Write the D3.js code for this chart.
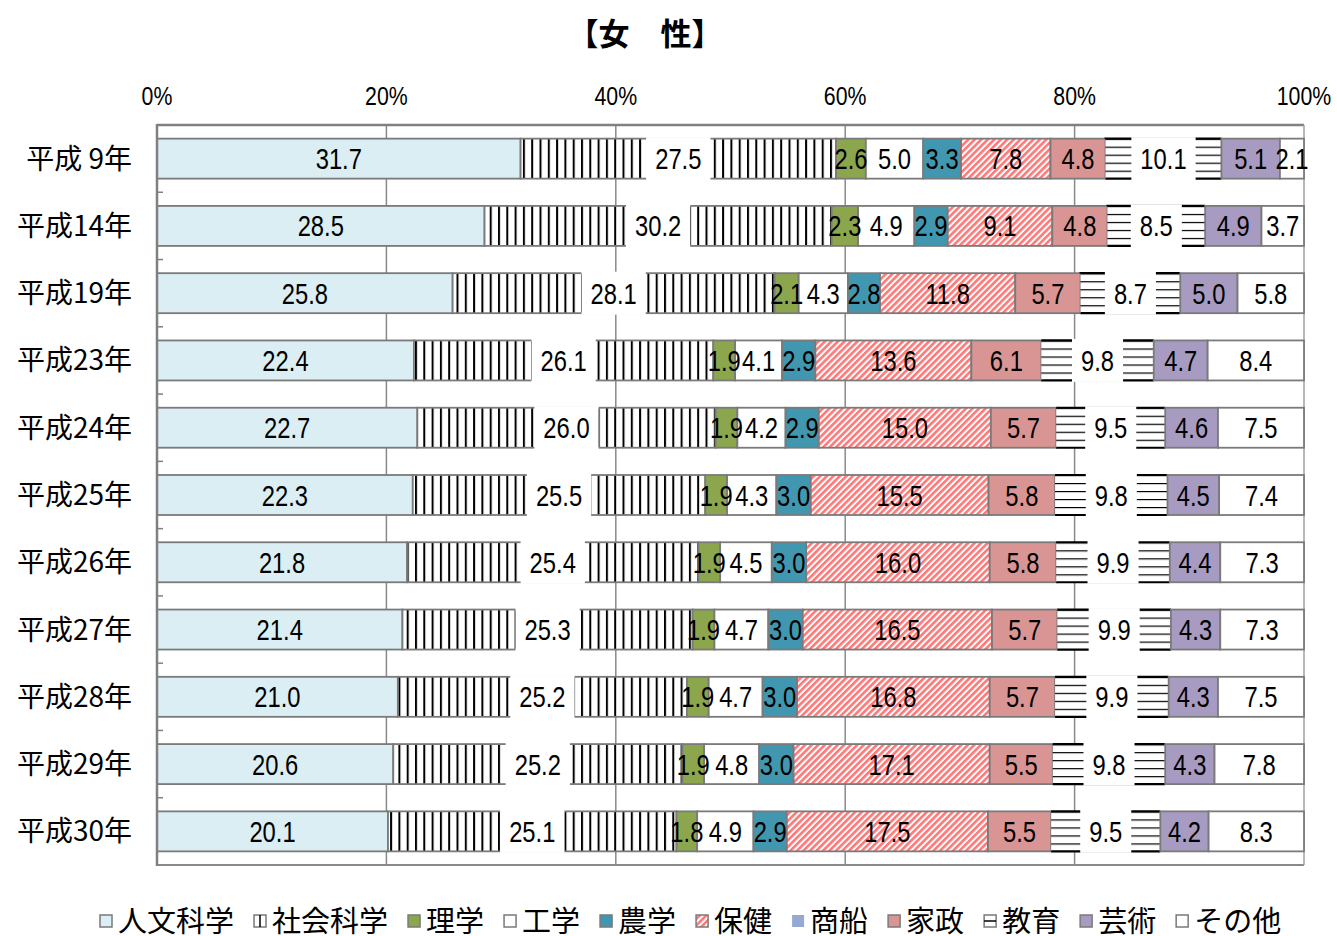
<!DOCTYPE html>
<html><head><meta charset="utf-8">
<script src="https://cdn.jsdelivr.net/npm/d3@7"></script>
<style>body{margin:0;background:#fff} svg{display:block}</style>
</head><body>
<svg id="c" width="1337" height="936"></svg>
<script>
// ---------- data ----------
const categories = ["平成 9年","平成14年","平成19年","平成23年","平成24年","平成25年","平成26年","平成27年","平成28年","平成29年","平成30年"];
const seriesNames = ["人文科学","社会科学","理学","工学","農学","保健","商船","家政","教育","芸術","その他"];
const jinbun   = [31.7,28.5,25.8,22.4,22.7,22.3,21.8,21.4,21.0,20.6,20.1];
const shakai   = [27.5,30.2,28.1,26.1,26.0,25.5,25.4,25.3,25.2,25.2,25.1];
const rigaku   = [2.6,2.3,2.1,1.9,1.9,1.9,1.9,1.9,1.9,1.9,1.8];
const kogaku   = [5.0,4.9,4.3,4.1,4.2,4.3,4.5,4.7,4.7,4.8,4.9];
const nogaku   = [3.3,2.9,2.8,2.9,2.9,3.0,3.0,3.0,3.0,3.0,2.9];
const hoken    = [7.8,9.1,11.8,13.6,15.0,15.5,16.0,16.5,16.8,17.1,17.5];
const shosen   = [0,0,0,0,0,0,0,0,0,0,0];
const kasei    = [4.8,4.8,5.7,6.1,5.7,5.8,5.8,5.7,5.7,5.5,5.5];
const kyoiku   = [10.1,8.5,8.7,9.8,9.5,9.8,9.9,9.9,9.9,9.8,9.5];
const geijutsu = [5.1,4.9,5.0,4.7,4.6,4.5,4.4,4.3,4.3,4.3,4.2];
const sonota   = [2.1,3.7,5.8,8.4,7.5,7.4,7.3,7.3,7.5,7.8,8.3];
const tickValues = [0,0.2,0.4,0.6,0.8,1.0];
const tickLabels = ["0%","20%","40%","60%","80%","100%"];
const titleText = "【女　性】";

const seriesValues = [jinbun,shakai,rigaku,kogaku,nogaku,hoken,shosen,kasei,kyoiku,geijutsu,sonota];
const table = categories.map((c,i)=>{
  const row = {cat:c};
  seriesNames.forEach((s,j)=>row[s]=seriesValues[j][i]);
  return row;
});

// ---------- styles ----------
const fills = {
  "人文科学":"#DAEEF3","社会科学":"url(#pShakai)","理学":"#8CA64E","工学":"#FFFFFF",
  "農学":"#4197AF","保健":"url(#pHoken)","商船":"#95A9D3","家政":"#D99594",
  "教育":"url(#pKyoiku)","芸術":"#A89BC1","その他":"#FFFFFF"
};
const boxed = new Set(["社会科学","教育"]);
const NUM_FONT = "'Liberation Sans',Arial,sans-serif";
const NARROW = 0.82;
const JP_FONT = "'Noto Sans CJK JP','Noto Sans',sans-serif";

const svg = d3.select("#c");
const L = 157, R = 1304, T = 125, B = 865;
const x = d3.scaleLinear().domain([0,1]).range([L,R]);
const y = d3.scaleBand().domain(categories).range([T,B]).paddingInner(0).paddingOuter(0);
const barH = 40;

// patterns
const defs = svg.append("defs");
const p1 = defs.append("pattern").attr("id","pShakai").attr("patternUnits","userSpaceOnUse")
  .attr("width",8.3).attr("height",10).attr("x",0);
p1.append("rect").attr("width",8.3).attr("height",10).attr("fill","#fff");
p1.append("rect").attr("x",0).attr("width",2).attr("height",10).attr("fill","#000");

const p2 = defs.append("pattern").attr("id","pHoken").attr("patternUnits","userSpaceOnUse")
  .attr("width",4.6).attr("height",10).attr("patternTransform","rotate(45)");
p2.append("rect").attr("width",4.6).attr("height",10).attr("fill","#fff");
p2.append("rect").attr("width",2.6).attr("height",10).attr("fill","#FF7878");

const p3 = defs.append("pattern").attr("id","pKyoiku").attr("patternUnits","objectBoundingBox")
  .attr("width",1).attr("height",1/5);
p3.append("rect").attr("width",3000).attr("height",20).attr("fill","#fff");
p3.append("rect").attr("y",-1).attr("width",3000).attr("height",2.2).attr("fill","#000");

// title
svg.append("text").attr("x",645).attr("y",45).attr("text-anchor","middle")
  .attr("font-family",JP_FONT).attr("font-weight","bold").attr("font-size",31)
  .text(titleText);

// tick labels
svg.append("g").selectAll("text").data(tickValues).join("text")
  .attr("transform",d=>`translate(${x(d)},105) scale(${NARROW},1)`)
  .attr("text-anchor","middle")
  .attr("font-family",NUM_FONT).attr("font-size",26).attr("fill","#000")
  .text((d,i)=>tickLabels[i]);

// gridlines
svg.append("g").selectAll("line").data(tickValues.slice(1,5)).join("line")
  .attr("x1",d=>x(d)).attr("x2",d=>x(d)).attr("y1",T).attr("y2",B)
  .attr("stroke","#8a8a8a").attr("stroke-width",1.5);

// frame
svg.append("line").attr("x1",L).attr("x2",R).attr("y1",T).attr("y2",T).attr("stroke","#808080").attr("stroke-width",2.5);
svg.append("line").attr("x1",L).attr("x2",R).attr("y1",B).attr("y2",B).attr("stroke","#8a8a8a").attr("stroke-width",2);
svg.append("line").attr("x1",R).attr("x2",R).attr("y1",T).attr("y2",B).attr("stroke","#a0a0a0").attr("stroke-width",1.5);

// stacked bars
const stack = d3.stack().keys(seriesNames).offset(d3.stackOffsetExpand);
const stacked = stack(table);

const gBars = svg.append("g");
stacked.forEach(s=>{
  const sel = gBars.append("g").selectAll("rect").data(s.filter(d=>d[1]-d[0]>0)).join("rect")
    .attr("x",d=>x(d[0])).attr("width",d=>x(d[1])-x(d[0]))
    .attr("y",d=>y(d.data.cat)+y.bandwidth()/2-barH/2).attr("height",barH)
    .attr("fill",fills[s.key]);
  if (s.key==="教育") {
    sel.attr("stroke","#000").attr("stroke-width",2.2)
      .attr("stroke-dasharray",d=>{const w=x(d[1])-x(d[0]);return `${w},${barH},${w},${barH}`;});
  } else {
    sel.attr("stroke","#7a7a7a").attr("stroke-width",1.8);
  }
});

// left axis
svg.append("line").attr("x1",L).attr("x2",L).attr("y1",T-1).attr("y2",B+1).attr("stroke","#808080").attr("stroke-width",2.5);
const bounds = d3.range(1,categories.length).map(i=>T+i*y.step());
svg.append("g").selectAll("line").data(bounds).join("line")
  .attr("x1",L).attr("x2",L+6).attr("y1",d=>d).attr("y2",d=>d)
  .attr("stroke","#808080").attr("stroke-width",1.5);

// category labels
svg.append("g").selectAll("text").data(categories).join("text")
  .attr("x",132).attr("y",d=>y(d)+y.bandwidth()/2+10).attr("text-anchor","end")
  .attr("font-family",JP_FONT).attr("font-size",28).attr("fill","#000")
  .text(d=>d);

// data labels
const gLab = svg.append("g");
stacked.forEach(s=>{
  s.forEach(d=>{
    const v = d.data[s.key];
    if (!(v>0)) return;
    const cx = (x(d[0])+x(d[1]))/2;
    const cy = y(d.data.cat)+y.bandwidth()/2;
    const t = gLab.append("text")
      .attr("transform",`translate(${cx},${cy+10.5}) scale(${NARROW},1)`)
      .attr("text-anchor","middle")
      .attr("font-family",NUM_FONT).attr("font-size",29).attr("fill","#000")
      .text(v.toFixed(1));
    if (boxed.has(s.key)) {
      const w = t.node().getComputedTextLength()*NARROW;
      gLab.insert("rect", function(){return t.node();})
        .attr("x",cx-w/2-9).attr("width",w+18)
        .attr("y",cy-barH/2-1.5).attr("height",barH+3).attr("fill","#fff");
    }
  });
});

// legend
const gLeg = svg.append("g");
let lx = 100;
const ly = 932;
seriesNames.forEach(name=>{
  const g = gLeg.append("g");
  const sy = 915;
  let fill = fills[name];
  if (name==="社会科学" || name==="教育") fill = "#fff";
  g.append("rect").attr("x",lx).attr("y",sy).attr("width",12).attr("height",12)
    .attr("fill",fill).attr("stroke", name==="商船" ? "none" : "#7a7a7a").attr("stroke-width",1.5);
  if (name==="社会科学") g.append("line").attr("x1",lx+6).attr("x2",lx+6).attr("y1",sy).attr("y2",sy+12).attr("stroke","#000").attr("stroke-width",1.5);
  if (name==="教育") g.append("line").attr("x1",lx).attr("x2",lx+12).attr("y1",sy+6).attr("y2",sy+6).attr("stroke","#000").attr("stroke-width",1.5);
  const t = g.append("text").attr("x",lx+18).attr("y",ly)
    .attr("font-family",JP_FONT).attr("font-size",29).attr("fill","#000").text(name);
  lx += 18 + t.node().getComputedTextLength() + 20;
});
</script>
</body></html>
